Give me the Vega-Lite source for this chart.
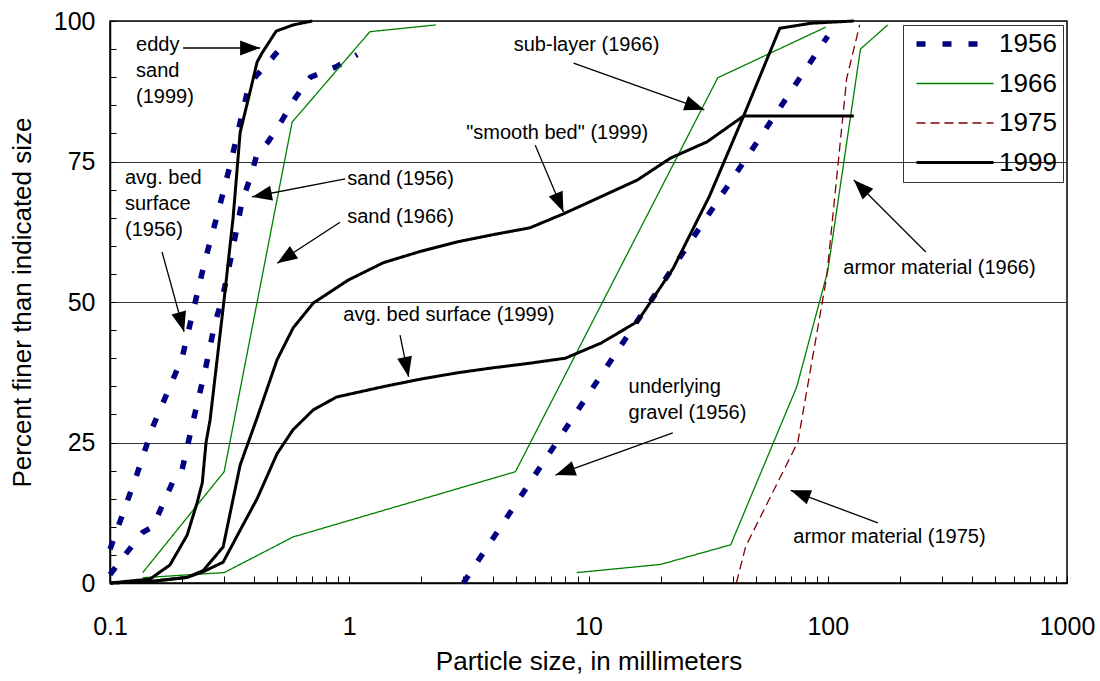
{
  "$schema": "https://vega.github.io/schema/vega-lite/v6.json",
  "width": 957,
  "height": 562,
  "autosize": {"type": "none"},
  "padding": {"left": 110, "top": 21, "right": 33, "bottom": 98},
  "background": "white",
  "config": {
    "font": "Liberation Sans",
    "view": {"stroke": "black", "strokeWidth": 1.5},
    "axis": {
      "domainColor": "black", "domainWidth": 1.5,
      "tickColor": "black", "tickWidth": 1,
      "labelColor": "black", "titleColor": "black",
      "labelFont": "Liberation Sans", "titleFont": "Liberation Sans",
      "titleFontWeight": "normal"
    },
    "legend": {
      "orient": "none", "legendX": 793, "legendY": 4,
      "strokeColor": "#333333", "padding": 6,
      "symbolType": "M-1,0L13,0", "symbolSize": 121,
      "labelFont": "Liberation Sans", "labelFontSize": 26, "labelColor": "black",
      "labelLimit": 0, "rowPadding": 13.5, "labelOffset": 64
    }
  },
  "datasets": {
    "curves": [
      {"year": "1956", "curve": "1956 bed", "d": 0.1, "pct": 6},
      {"year": "1956", "curve": "1956 bed", "d": 0.13, "pct": 19.5},
      {"year": "1956", "curve": "1956 bed", "d": 0.151, "pct": 27.8},
      {"year": "1956", "curve": "1956 bed", "d": 0.2, "pct": 40},
      {"year": "1956", "curve": "1956 bed", "d": 0.25, "pct": 57.5},
      {"year": "1956", "curve": "1956 bed", "d": 0.283, "pct": 66},
      {"year": "1956", "curve": "1956 bed", "d": 0.318, "pct": 74.4},
      {"year": "1956", "curve": "1956 bed", "d": 0.374, "pct": 87.2},
      {"year": "1956", "curve": "1956 bed", "d": 0.404, "pct": 90},
      {"year": "1956", "curve": "1956 bed", "d": 0.476, "pct": 93.4},
      {"year": "1956", "curve": "1956 bed", "d": 0.55, "pct": 96.6},

      {"year": "1956", "curve": "1956 sand", "d": 0.1, "pct": 1.5},
      {"year": "1956", "curve": "1956 sand", "d": 0.118, "pct": 5.5},
      {"year": "1956", "curve": "1956 sand", "d": 0.137, "pct": 9},
      {"year": "1956", "curve": "1956 sand", "d": 0.151, "pct": 10},
      {"year": "1956", "curve": "1956 sand", "d": 0.183, "pct": 18},
      {"year": "1956", "curve": "1956 sand", "d": 0.2, "pct": 20.1},
      {"year": "1956", "curve": "1956 sand", "d": 0.222, "pct": 28.6},
      {"year": "1956", "curve": "1956 sand", "d": 0.25, "pct": 37.9},
      {"year": "1956", "curve": "1956 sand", "d": 0.275, "pct": 46.4},
      {"year": "1956", "curve": "1956 sand", "d": 0.294, "pct": 50.4},
      {"year": "1956", "curve": "1956 sand", "d": 0.324, "pct": 58.9},
      {"year": "1956", "curve": "1956 sand", "d": 0.356, "pct": 67.8},
      {"year": "1956", "curve": "1956 sand", "d": 0.385, "pct": 72},
      {"year": "1956", "curve": "1956 sand", "d": 0.411, "pct": 76.2},
      {"year": "1956", "curve": "1956 sand", "d": 0.458, "pct": 78.5},
      {"year": "1956", "curve": "1956 sand", "d": 0.525, "pct": 82.4},
      {"year": "1956", "curve": "1956 sand", "d": 0.595, "pct": 86.3},
      {"year": "1956", "curve": "1956 sand", "d": 0.688, "pct": 90},
      {"year": "1956", "curve": "1956 sand", "d": 0.876, "pct": 91.8},
      {"year": "1956", "curve": "1956 sand", "d": 1.08, "pct": 94},

      {"year": "1956", "curve": "1956 gravel", "d": 3, "pct": 0},
      {"year": "1956", "curve": "1956 gravel", "d": 10, "pct": 33.6},
      {"year": "1956", "curve": "1956 gravel", "d": 20, "pct": 52.8},
      {"year": "1956", "curve": "1956 gravel", "d": 50, "pct": 78.1},
      {"year": "1956", "curve": "1956 gravel", "d": 100, "pct": 97.3},

      {"year": "1966", "curve": "1966 sand", "d": 0.137, "pct": 1.85},
      {"year": "1966", "curve": "1966 sand", "d": 0.3, "pct": 19.8},
      {"year": "1966", "curve": "1966 sand", "d": 0.577, "pct": 82},
      {"year": "1966", "curve": "1966 sand", "d": 1.22, "pct": 98.1},
      {"year": "1966", "curve": "1966 sand", "d": 2.3, "pct": 99.3},

      {"year": "1966", "curve": "1966 sub-layer", "d": 0.137, "pct": 0.95},
      {"year": "1966", "curve": "1966 sub-layer", "d": 0.3, "pct": 1.85},
      {"year": "1966", "curve": "1966 sub-layer", "d": 0.583, "pct": 8.2},
      {"year": "1966", "curve": "1966 sub-layer", "d": 4.95, "pct": 19.8},
      {"year": "1966", "curve": "1966 sub-layer", "d": 34.7, "pct": 89.9},
      {"year": "1966", "curve": "1966 sub-layer", "d": 98, "pct": 98.9},

      {"year": "1966", "curve": "1966 armor", "d": 8.93, "pct": 1.85},
      {"year": "1966", "curve": "1966 armor", "d": 20, "pct": 3.3},
      {"year": "1966", "curve": "1966 armor", "d": 39.3, "pct": 6.8},
      {"year": "1966", "curve": "1966 armor", "d": 74.2, "pct": 34.9},
      {"year": "1966", "curve": "1966 armor", "d": 100, "pct": 55.5},
      {"year": "1966", "curve": "1966 armor", "d": 137, "pct": 95},
      {"year": "1966", "curve": "1966 armor", "d": 178, "pct": 99.3},

      {"year": "1975", "curve": "1975 armor", "d": 41.5, "pct": 0},
      {"year": "1975", "curve": "1975 armor", "d": 45.4, "pct": 6.5},
      {"year": "1975", "curve": "1975 armor", "d": 75, "pct": 25.1},
      {"year": "1975", "curve": "1975 armor", "d": 99, "pct": 54.5},
      {"year": "1975", "curve": "1975 armor", "d": 120, "pct": 89.8},
      {"year": "1975", "curve": "1975 armor", "d": 136, "pct": 99.3},

      {"year": "1999", "curve": "1999 eddy", "d": 0.1, "pct": 0},
      {"year": "1999", "curve": "1999 eddy", "d": 0.147, "pct": 0.7},
      {"year": "1999", "curve": "1999 eddy", "d": 0.178, "pct": 3.2},
      {"year": "1999", "curve": "1999 eddy", "d": 0.21, "pct": 8.5},
      {"year": "1999", "curve": "1999 eddy", "d": 0.231, "pct": 14.2},
      {"year": "1999", "curve": "1999 eddy", "d": 0.243, "pct": 17.8},
      {"year": "1999", "curve": "1999 eddy", "d": 0.252, "pct": 25},
      {"year": "1999", "curve": "1999 eddy", "d": 0.262, "pct": 29},
      {"year": "1999", "curve": "1999 eddy", "d": 0.3, "pct": 50.5},
      {"year": "1999", "curve": "1999 eddy", "d": 0.327, "pct": 65},
      {"year": "1999", "curve": "1999 eddy", "d": 0.35, "pct": 80.2},
      {"year": "1999", "curve": "1999 eddy", "d": 0.385, "pct": 87.4},
      {"year": "1999", "curve": "1999 eddy", "d": 0.412, "pct": 92.7},
      {"year": "1999", "curve": "1999 eddy", "d": 0.432, "pct": 94.3},
      {"year": "1999", "curve": "1999 eddy", "d": 0.495, "pct": 98.2},
      {"year": "1999", "curve": "1999 eddy", "d": 0.583, "pct": 99.3},
      {"year": "1999", "curve": "1999 eddy", "d": 0.7, "pct": 100},

      {"year": "1999", "curve": "1999 smooth", "d": 0.1, "pct": 0},
      {"year": "1999", "curve": "1999 smooth", "d": 0.15, "pct": 0.3},
      {"year": "1999", "curve": "1999 smooth", "d": 0.21, "pct": 1},
      {"year": "1999", "curve": "1999 smooth", "d": 0.245, "pct": 2.2},
      {"year": "1999", "curve": "1999 smooth", "d": 0.297, "pct": 6.4},
      {"year": "1999", "curve": "1999 smooth", "d": 0.35, "pct": 21},
      {"year": "1999", "curve": "1999 smooth", "d": 0.412, "pct": 29.4},
      {"year": "1999", "curve": "1999 smooth", "d": 0.499, "pct": 39.7},
      {"year": "1999", "curve": "1999 smooth", "d": 0.583, "pct": 45.4},
      {"year": "1999", "curve": "1999 smooth", "d": 0.707, "pct": 49.8},
      {"year": "1999", "curve": "1999 smooth", "d": 0.99, "pct": 53.9},
      {"year": "1999", "curve": "1999 smooth", "d": 1.39, "pct": 57},
      {"year": "1999", "curve": "1999 smooth", "d": 1.98, "pct": 59},
      {"year": "1999", "curve": "1999 smooth", "d": 2.83, "pct": 60.7},
      {"year": "1999", "curve": "1999 smooth", "d": 4.01, "pct": 62},
      {"year": "1999", "curve": "1999 smooth", "d": 5.69, "pct": 63.2},
      {"year": "1999", "curve": "1999 smooth", "d": 7.87, "pct": 65.7},
      {"year": "1999", "curve": "1999 smooth", "d": 16, "pct": 71.7},
      {"year": "1999", "curve": "1999 smooth", "d": 22, "pct": 75.6},
      {"year": "1999", "curve": "1999 smooth", "d": 31.3, "pct": 78.5},
      {"year": "1999", "curve": "1999 smooth", "d": 44.5, "pct": 83.1},
      {"year": "1999", "curve": "1999 smooth", "d": 128.5, "pct": 83.1},

      {"year": "1999", "curve": "1999 bed", "d": 0.1, "pct": 0},
      {"year": "1999", "curve": "1999 bed", "d": 0.15, "pct": 0.3},
      {"year": "1999", "curve": "1999 bed", "d": 0.21, "pct": 1},
      {"year": "1999", "curve": "1999 bed", "d": 0.245, "pct": 2},
      {"year": "1999", "curve": "1999 bed", "d": 0.297, "pct": 3.7},
      {"year": "1999", "curve": "1999 bed", "d": 0.35, "pct": 9.4},
      {"year": "1999", "curve": "1999 bed", "d": 0.412, "pct": 15},
      {"year": "1999", "curve": "1999 bed", "d": 0.499, "pct": 23},
      {"year": "1999", "curve": "1999 bed", "d": 0.583, "pct": 27.3},
      {"year": "1999", "curve": "1999 bed", "d": 0.707, "pct": 30.8},
      {"year": "1999", "curve": "1999 bed", "d": 0.886, "pct": 33.1},
      {"year": "1999", "curve": "1999 bed", "d": 1.41, "pct": 35},
      {"year": "1999", "curve": "1999 bed", "d": 2, "pct": 36.3},
      {"year": "1999", "curve": "1999 bed", "d": 2.83, "pct": 37.4},
      {"year": "1999", "curve": "1999 bed", "d": 4, "pct": 38.3},
      {"year": "1999", "curve": "1999 bed", "d": 5.66, "pct": 39.1},
      {"year": "1999", "curve": "1999 bed", "d": 8, "pct": 40},
      {"year": "1999", "curve": "1999 bed", "d": 11.3, "pct": 42.7},
      {"year": "1999", "curve": "1999 bed", "d": 16, "pct": 46.5},
      {"year": "1999", "curve": "1999 bed", "d": 22.6, "pct": 56},
      {"year": "1999", "curve": "1999 bed", "d": 32, "pct": 68.8},
      {"year": "1999", "curve": "1999 bed", "d": 44.5, "pct": 83.1},
      {"year": "1999", "curve": "1999 bed", "d": 63, "pct": 98.7},
      {"year": "1999", "curve": "1999 bed", "d": 85, "pct": 99.6},
      {"year": "1999", "curve": "1999 bed", "d": 128.5, "pct": 100}
    ],
    "arrows": [
      {"d0": 0.202, "pct0": 95.2, "d": 0.424, "pct": 95.2},
      {"d0": 0.165, "pct0": 58.9, "d": 0.204, "pct": 44.7},
      {"d0": 0.962, "pct0": 71.9, "d": 0.392, "pct": 68.7},
      {"d0": 0.915, "pct0": 64.2, "d": 0.5, "pct": 56.9},
      {"d0": 5.99, "pct0": 77.9, "d": 7.86, "pct": 66.0},
      {"d0": 8.66, "pct0": 92.5, "d": 30.5, "pct": 84.2},
      {"d0": 1.63, "pct0": 44.1, "d": 1.77, "pct": 36.7},
      {"d0": 22.5, "pct0": 26.7, "d": 7.28, "pct": 19.2},
      {"d0": 257, "pct0": 58.9, "d": 128.5, "pct": 71.7},
      {"d0": 162, "pct0": 10.7, "d": 70, "pct": 16.5}
    ],
    "notes": [
      {"note": "eddy\nsand\n(1999)", "d": 0.1285, "pct": 95.7},
      {"note": "avg. bed\nsurface\n(1956)", "d": 0.1155, "pct": 72.1},
      {"note": "sand (1956)", "d": 0.98, "pct": 71.9},
      {"note": "sand (1966)", "d": 0.98, "pct": 65.1},
      {"note": "\"smooth bed\" (1999)", "d": 3.08, "pct": 80.1},
      {"note": "sub-layer (1966)", "d": 4.87, "pct": 95.7},
      {"note": "avg. bed surface (1999)", "d": 0.944, "pct": 47.7},
      {"note": "underlying\ngravel (1956)", "d": 14.7, "pct": 34.9},
      {"note": "armor material (1966)", "d": 116.1, "pct": 56.0},
      {"note": "armor material (1975)", "d": 71.8, "pct": 8.2}
    ]
  },
  "encoding": {
    "x": {
      "field": "d", "type": "quantitative",
      "title": "Particle size, in millimeters",
      "scale": {"type": "log", "domain": [0.1, 1000], "nice": false},
      "axis": {
        "values": [0.1, 0.2, 0.3, 0.4, 0.5, 0.6, 0.7, 0.8, 0.9, 1, 2, 3, 4, 5, 6, 7, 8, 9, 10, 20, 30, 40, 50, 60, 70, 80, 90, 100, 200, 300, 400, 500, 600, 700, 800, 900, 1000],
        "format": "~g",
        "labelExpr": "indexof([0.1, 1, 10, 100, 1000], datum.value) >= 0 ? datum.label : ''",
        "labelFlush": false, "labelOverlap": false,
        "tickSize": -7, "labelPadding": 38, "labelFontSize": 25,
        "titleFontSize": 26, "titlePadding": 9, "grid": false
      }
    },
    "y": {
      "field": "pct", "type": "quantitative",
      "title": "Percent finer than indicated size",
      "scale": {"domain": [0, 100], "nice": false},
      "axis": {
        "values": [0, 5, 10, 15, 20, 25, 30, 35, 40, 45, 50, 55, 60, 65, 70, 75, 80, 85, 90, 95, 100],
        "labelExpr": "datum.value % 25 === 0 ? datum.label : ''",
        "labelOverlap": false,
        "tickSize": -6, "labelPadding": 21, "labelFontSize": 25,
        "titleFontSize": 26, "titlePadding": 18,
        "grid": true, "gridColor": "#333333", "gridWidth": 1,
        "gridOpacity": {"condition": {"test": "datum.value % 25 === 0", "value": 1}, "value": 0}
      }
    }
  },
  "layer": [
    {
      "data": {"name": "curves"},
      "mark": {"type": "line", "strokeCap": "butt"},
      "encoding": {
        "detail": {"field": "curve"},
        "color": {
          "field": "year", "type": "nominal",
          "scale": {"domain": ["1956", "1966", "1975", "1999"], "range": ["#000080", "#008000", "#800000", "#000000"]},
          "legend": {
            "title": null,
            "encode": {
              "symbols": {
                "update": {
                  "strokeWidth": {"signal": "datum.value === '1956' ? 5.5 : datum.value === '1999' ? 3 : 1.3"}
                }
              }
            }
          }
        },
        "strokeDash": {
          "field": "year", "type": "nominal",
          "scale": {"domain": ["1956", "1966", "1975", "1999"], "range": [[9, 17], [1, 0], [9, 5], [1, 0]]},
          "legend": {"title": null}
        },
        "strokeWidth": {
          "condition": [
            {"test": "datum.year === '1956'", "value": 5.5},
            {"test": "datum.year === '1999'", "value": 3}
          ],
          "value": 1.3
        }
      }
    },
    {
      "data": {"name": "arrows"},
      "mark": {"type": "rule", "color": "black", "strokeWidth": 1.3},
      "encoding": {
        "x2": {"field": "d0"},
        "y2": {"field": "pct0"}
      }
    },
    {
      "data": {"name": "arrows"},
      "transform": [
        {"calculate": "atan2((width / 4) * log(datum.d / datum.d0) / LN10, (height / 100) * (datum.pct - datum.pct0)) * 180 / PI", "as": "angle"}
      ],
      "mark": {"type": "point", "shape": "M0,0L-0.75,2L0.75,2Z", "filled": true, "size": 400, "color": "black", "opacity": 1, "strokeWidth": 0},
      "encoding": {
        "angle": {"field": "angle", "type": "quantitative", "scale": null}
      }
    },
    {
      "data": {"name": "notes"},
      "mark": {"type": "text", "align": "left", "baseline": "middle", "fontSize": 20, "lineBreak": "\n", "lineHeight": 26, "color": "black", "font": "Liberation Sans"},
      "encoding": {
        "text": {"field": "note"}
      }
    }
  ]
}
